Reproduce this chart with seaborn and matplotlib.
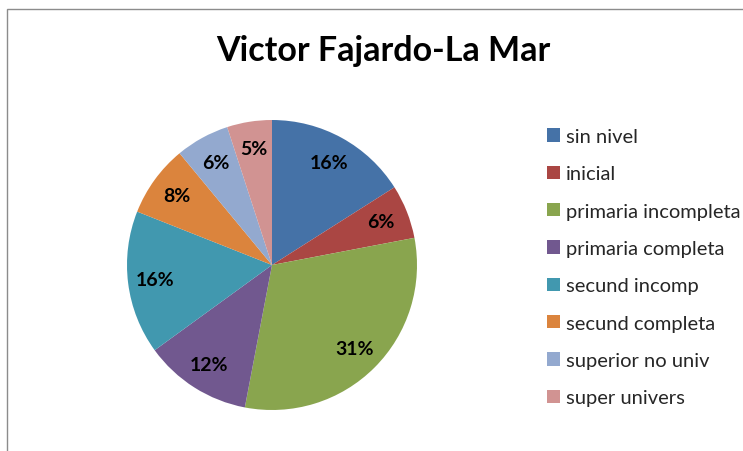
import matplotlib
matplotlib.use("Agg")
import matplotlib.pyplot as plt
from matplotlib.patches import Rectangle, Patch
import seaborn as sns

# data
categories = ["sin nivel", "inicial", "primaria incompleta", "primaria completa",
              "secund incomp", "secund completa", "superior no univ", "super univers"]
percents = [16, 6, 31, 12, 16, 8, 6, 5]
colors = ["#4572A7", "#AA4643", "#89A54E", "#71588F",
          "#4198AF", "#DB843D", "#93A9CF", "#D19392"]

sns.set_theme(style="white")
plt.rcParams["font.family"] = ["Lato", "DejaVu Sans"]

W, H = 743, 452
fig = plt.figure(figsize=(W / 100, H / 100), dpi=100)
fig.patch.set_facecolor("white")

# chart area frame (left/top edges visible)
fig.patches.append(Rectangle((7 / W, -0.1), 1.2, 1.1 - 10 / H,
                             transform=fig.transFigure, fill=False,
                             edgecolor="#8c8c8c", linewidth=1.0, zorder=0))

# pie axes
cx, cy, r = 272, 266, 145
ax = fig.add_axes([(cx - r) / W, (H - cy - r) / H, 2 * r / W, 2 * r / H])
wedges, texts, autotexts = ax.pie(
    percents, colors=sns.color_palette(colors), startangle=90, counterclock=False,
    autopct="%1.0f%%", pctdistance=0.81, radius=1,
    wedgeprops=dict(linewidth=0),
    textprops=dict(fontsize=14, fontweight="bold", color="black"))
ax.set_xlim(-1, 1)
ax.set_ylim(-1, 1)
ax.set_aspect("equal")
ax.axis("off")

# title
fig.text(383 / W, 1 - 51 / H, "Victor Fajardo-La Mar", ha="center", va="center",
         fontsize=24.5, fontweight="bold", color="black")

# legend
handles = [Patch(facecolor=c, edgecolor="none") for c in colors]
fig.legend(handles, categories, loc="upper left",
           bbox_to_anchor=(547 / W, 1 - 129 / H), frameon=False,
           fontsize=14.5, handlelength=0.65, handleheight=0.65, handletextpad=0.3,
           labelspacing=1.01, borderaxespad=0, borderpad=0)

fig.savefig("out.png", dpi=100, facecolor="white")
